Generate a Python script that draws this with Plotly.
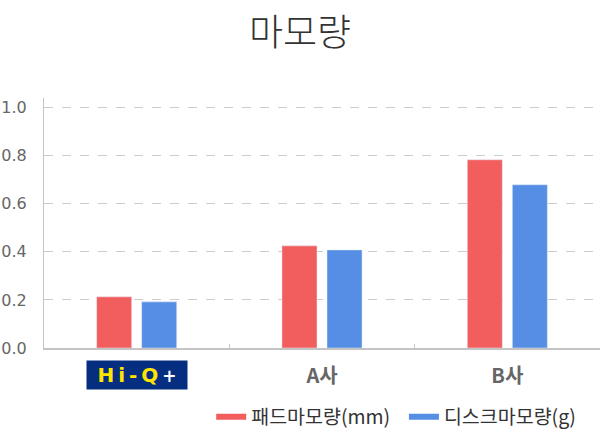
import plotly.graph_objects as go

categories = ["Hi-Q+", "A사", "B사"]
tick_labels = ["", "A사", "B사"]
pad_wear = [0.213, 0.425, 0.783]    # 패드마모량(mm)
disc_wear = [0.192, 0.408, 0.679]   # 디스크마모량(g)

red = "#f25e5e"
blue = "#568ee5"
font = "Noto Sans CJK KR"

fig = go.Figure()

fig.add_trace(go.Bar(x=categories, y=pad_wear, marker_color=red,
                     name="패드마모량(mm)", showlegend=False))
fig.add_trace(go.Bar(x=categories, y=disc_wear, marker_color=blue,
                     name="디스크마모량(g)", showlegend=False))

# legend entries drawn as wide bars (line symbols)
fig.add_trace(go.Scatter(x=[None], y=[None], mode="lines",
                         line=dict(color=red, width=6), name="패드마모량(mm)\u00a0\u00a0"))
fig.add_trace(go.Scatter(x=[None], y=[None], mode="lines",
                         line=dict(color=blue, width=6), name="디스크마모량(g)"))

# Hi-Q+ logo in place of the first tick label
fig.add_annotation(
    x=categories[0], xref="x", y=-0.108, yref="paper",
    text="<b>H\u2009i\u2009-\u2009Q\u2009</b><span style='color:white;font-size:17px'><b>+</b></span>",
    font=dict(family="DejaVu Sans", size=20, color="#ffe400"),
    bgcolor="#062e80", width=98, height=26, showarrow=False,
    yanchor="middle", xanchor="center",
)

fig.update_layout(
    width=600, height=430,
    margin=dict(l=44, r=0, t=98, b=82),
    paper_bgcolor="white", plot_bgcolor="white",
    font=dict(family=font, color="#666"),
    title=dict(text="마모량", x=0.5, xanchor="center", y=0.924, yanchor="middle",
               font=dict(family=font, size=37, color="#333", weight=300)),
    barmode="group", bargap=0.514, bargroupgap=0.222,
    showlegend=True,
    legend=dict(orientation="h", xref="container", yref="container",
                x=0.352, xanchor="left", y=0.030, yanchor="middle",
                font=dict(family=font, size=19.5, color="#333"),
                itemwidth=30, traceorder="normal"),
)

fig.update_xaxes(
    tickvals=categories, ticktext=tick_labels,
    tickfont=dict(family=font, size=20, color="#666", weight="bold"),
    showline=True, linecolor="#c4c4c4", linewidth=1.5,
    ticks="inside", tickson="boundaries", ticklen=4, tickcolor="#c4c4c4",
    showgrid=False, ticklabelstandoff=9, automargin=False,
)
fig.update_yaxes(
    range=[0, 1.04], tickvals=[0, 0.2, 0.4, 0.6, 0.8, 1.0],
    ticktext=["0.0", "0.2", "0.4", "0.6", "0.8", "1.0"],
    tickfont=dict(family="DejaVu Sans", size=16, color="#666"),
    showline=True, linecolor="#c4c4c4", linewidth=1,
    showgrid=True, gridcolor="#cccccc", griddash="dash", gridwidth=1,
    zeroline=False, ticklabelstandoff=13, automargin=False,
)

fig.write_html("out.html", config={"displayModeBar": False},
               post_script="document.body.style.margin='0';")
